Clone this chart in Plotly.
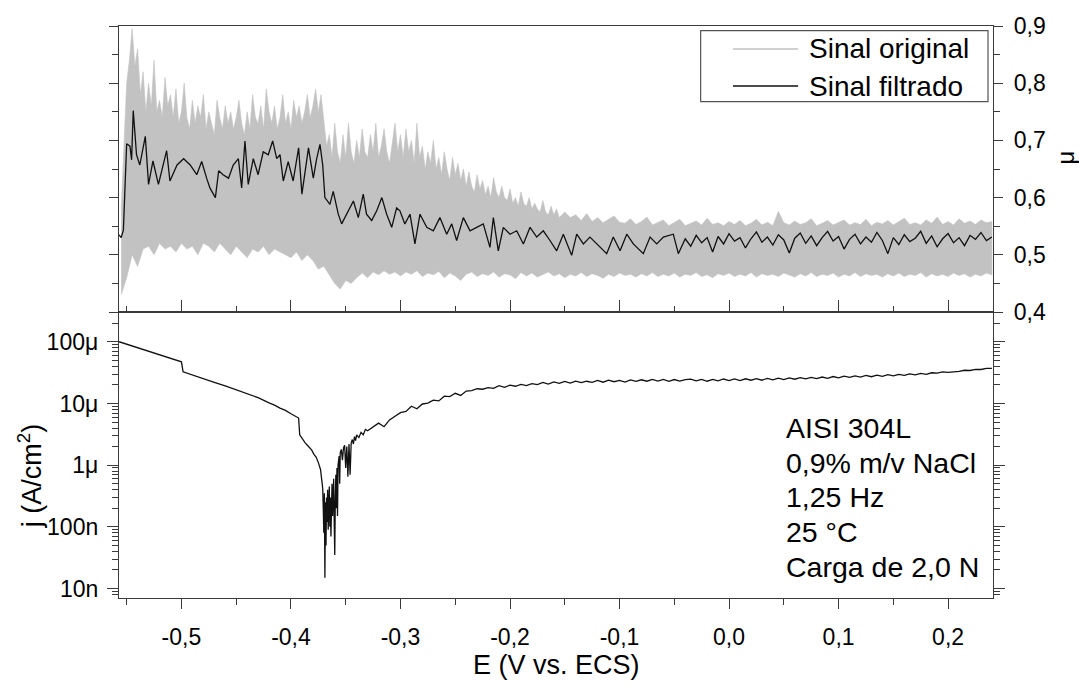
import plotly.graph_objects as go

# ---------------- data ----------------
# Top panel: friction coefficient (mu) vs E
# gray original signal: upper envelope (fine part + coarse part) and lower envelope
E_up1_start, E_up1_step = -0.555, 0.0025
mu_upper1 = [0.58, 0.70, 0.80, 0.84, 0.895, 0.83, 0.86,
             0.78, 0.82, 0.75, 0.80, 0.76, 0.84, 0.75, 0.77, 0.74, 0.81, 0.76, 0.78,
             0.74, 0.79, 0.73, 0.75, 0.80, 0.74, 0.72, 0.77, 0.73, 0.76, 0.74, 0.78,
             0.72, 0.75, 0.73, 0.71, 0.77, 0.74, 0.72, 0.76, 0.73, 0.75, 0.72, 0.74,
             0.77, 0.73, 0.71, 0.75, 0.72, 0.78, 0.74, 0.73, 0.76, 0.72, 0.79, 0.75,
             0.73, 0.76, 0.72, 0.74, 0.78, 0.73, 0.75, 0.72, 0.77, 0.74, 0.76, 0.73,
             0.75, 0.78, 0.74, 0.76, 0.79, 0.75, 0.78, 0.73, 0.69, 0.71, 0.67, 0.73,
             0.68, 0.66, 0.71, 0.67, 0.73, 0.68, 0.66, 0.70, 0.67, 0.72, 0.68, 0.67,
             0.71, 0.68, 0.73, 0.67, 0.69, 0.72, 0.68, 0.66, 0.70, 0.73, 0.68, 0.71,
             0.67, 0.72, 0.68, 0.70, 0.66, 0.73, 0.67, 0.69, 0.65, 0.68, 0.66, 0.70,
             0.65, 0.67, 0.64, 0.68, 0.65, 0.63, 0.67, 0.64, 0.66, 0.63, 0.65, 0.62,
             0.645, 0.62, 0.61, 0.64, 0.615, 0.63, 0.605, 0.62, 0.60, 0.635, 0.61, 0.60,
             0.62, 0.60, 0.595, 0.615, 0.59, 0.60, 0.585, 0.61, 0.59, 0.585, 0.60, 0.58,
             0.59, 0.58, 0.575, 0.595, 0.575, 0.57, 0.585, 0.57, 0.58, 0.565, 0.57, 0.575]
E_up2_start, E_up2_step = -0.145, 0.005
mu_upper2 = [0.565, 0.57, 0.56, 0.572, 0.558, 0.565, 0.556, 0.562, 0.568, 0.557,
             0.555, 0.563, 0.553, 0.558, 0.566, 0.552, 0.557, 0.561, 0.551, 0.556,
             0.562, 0.551, 0.555, 0.559, 0.552, 0.564, 0.553, 0.556, 0.551, 0.558,
             0.553, 0.56, 0.551, 0.555, 0.562, 0.552, 0.557, 0.551, 0.576, 0.556,
             0.552, 0.559, 0.553, 0.556, 0.563, 0.551, 0.555, 0.560, 0.552, 0.557,
             0.561, 0.552, 0.556, 0.553, 0.562, 0.551, 0.557, 0.554, 0.56, 0.552,
             0.558, 0.564, 0.553, 0.556, 0.552, 0.561, 0.555, 0.566, 0.553, 0.558,
             0.552, 0.563, 0.555, 0.559, 0.553, 0.561, 0.556, 0.558]
E_low_start, E_low_step = -0.555, 0.005
mu_lower = [0.43, 0.46, 0.50, 0.48, 0.51, 0.515, 0.50, 0.52, 0.51, 0.515,
            0.505, 0.52, 0.51, 0.515, 0.50, 0.52, 0.515, 0.505, 0.52, 0.51,
            0.50, 0.515, 0.505, 0.495, 0.51, 0.505, 0.515, 0.50, 0.51, 0.505,
            0.50, 0.495, 0.505, 0.49, 0.50, 0.49, 0.475, 0.48, 0.465, 0.45,
            0.44, 0.455, 0.45, 0.46, 0.468, 0.46, 0.47, 0.465, 0.472, 0.466,
            0.47, 0.463, 0.47, 0.466, 0.472, 0.462, 0.468, 0.465, 0.471, 0.46,
            0.468, 0.463, 0.455, 0.466, 0.47, 0.462, 0.467, 0.464, 0.47, 0.461,
            0.467, 0.465, 0.458, 0.469, 0.463, 0.468, 0.461, 0.466, 0.47, 0.463,
            0.467, 0.46, 0.466, 0.463, 0.469, 0.462, 0.467, 0.464, 0.459, 0.466,
            0.462, 0.468, 0.464, 0.466, 0.461, 0.467, 0.463, 0.469, 0.462, 0.466,
            0.463, 0.468, 0.461, 0.466, 0.464, 0.469, 0.462, 0.465, 0.46, 0.467,
            0.464, 0.468, 0.462, 0.466, 0.463, 0.469, 0.461, 0.467, 0.464, 0.466,
            0.462, 0.468, 0.465, 0.461, 0.467, 0.463, 0.469, 0.462, 0.466, 0.464,
            0.468, 0.461, 0.466, 0.463, 0.469, 0.462, 0.467, 0.464, 0.466, 0.461,
            0.467, 0.463, 0.468, 0.462, 0.466, 0.464, 0.469, 0.461, 0.467, 0.463,
            0.466, 0.462, 0.468, 0.464, 0.467, 0.461, 0.466, 0.463, 0.468, 0.465]

# filtered signal
E_filt = [-0.557, -0.555, -0.553, -0.5516, -0.550, -0.547, -0.5455, -0.544, -0.541, -0.538,
          -0.533, -0.530, -0.526, -0.521, -0.518, -0.5135, -0.5105, -0.504, -0.498, -0.492,
          -0.486, -0.4815, -0.477, -0.474, -0.469, -0.466, -0.462, -0.457, -0.4527, -0.448,
          -0.445, -0.442, -0.439, -0.4344, -0.430, -0.4253, -0.4207, -0.4167, -0.413, -0.410,
          -0.407, -0.4025, -0.398, -0.393, -0.390, -0.387, -0.384, -0.3796, -0.3765, -0.3735,
          -0.371, -0.369, -0.3644, -0.3614, -0.3568, -0.3537, -0.349, -0.343, -0.3385, -0.334,
          -0.331, -0.3263, -0.3217, -0.317, -0.3126, -0.308, -0.3035, -0.3005, -0.296, -0.2913,
          -0.2868, -0.2822, -0.276, -0.270, -0.264, -0.2578, -0.2532, -0.2487, -0.2426, -0.2365,
          -0.2304, -0.2244, -0.2183, -0.2152, -0.2107, -0.2061, -0.200, -0.1939, -0.1878, -0.1817,
          -0.1756, -0.1696, -0.1635, -0.1574, -0.1513, -0.1437, -0.1391, -0.133, -0.127, -0.1208,
          -0.1117, -0.1057, -0.0995, -0.0934, -0.0874, -0.0783, -0.0721, -0.066, -0.060, -0.0509,
          -0.0463]
mu_filt = [0.535, 0.53, 0.543, 0.624, 0.694, 0.69, 0.666, 0.752, 0.675, 0.657,
           0.707, 0.623, 0.664, 0.623, 0.647, 0.682, 0.629, 0.657, 0.668, 0.657,
           0.64, 0.663, 0.634, 0.617, 0.600, 0.647, 0.64, 0.634, 0.657, 0.668,
           0.617, 0.699, 0.623, 0.668, 0.64, 0.68, 0.675, 0.699, 0.668, 0.675,
           0.629, 0.663, 0.629, 0.687, 0.606, 0.647, 0.687, 0.634, 0.668, 0.693,
           0.657, 0.600, 0.588, 0.611, 0.571, 0.554, 0.571, 0.594, 0.565, 0.606,
           0.571, 0.56, 0.577, 0.60, 0.571, 0.548, 0.582, 0.577, 0.554, 0.571,
           0.519, 0.571, 0.548, 0.542, 0.565, 0.536, 0.554, 0.525, 0.565, 0.542,
           0.548, 0.554, 0.513, 0.565, 0.507, 0.548, 0.536, 0.542, 0.519, 0.548,
           0.531, 0.542, 0.525, 0.507, 0.536, 0.499, 0.536, 0.519, 0.531, 0.519,
           0.502, 0.531, 0.507, 0.536, 0.519, 0.502, 0.531, 0.519, 0.531, 0.536,
           0.502]
E_tail_start, E_tail_step = -0.040, 0.005
mu_filt_tail = [0.528, 0.515, 0.534, 0.521, 0.530, 0.505, 0.532, 0.519, 0.537, 0.524,
                0.530, 0.512, 0.528, 0.540, 0.522, 0.531, 0.517, 0.535, 0.526, 0.503,
                0.529, 0.538, 0.520, 0.533, 0.516, 0.530, 0.541, 0.524, 0.532, 0.510,
                0.527, 0.536, 0.519, 0.531, 0.522, 0.539, 0.525, 0.502, 0.530, 0.518,
                0.535, 0.523, 0.529, 0.541, 0.520, 0.533, 0.514, 0.528, 0.537, 0.521,
                0.530, 0.516, 0.534, 0.527, 0.539, 0.525, 0.531]

# Bottom panel: current density j (uA/cm2) vs E
E_j_cat = [-0.557, -0.545, -0.530, -0.515, -0.500, -0.4985, -0.490, -0.480, -0.470, -0.460,
           -0.450, -0.440, -0.430, -0.420, -0.415, -0.410, -0.405, -0.400, -0.395, -0.393,
           -0.392]
j_cat_uA = [100, 85.5, 70.2, 57.5, 47.3, 32.6, 28.8, 25.2, 22.0, 19.2,
            16.7, 14.5, 12.4, 10.2, 9.4, 8.4, 7.7, 6.8, 6.2, 5.8,
            3.1]
E_j_min = [-0.391, -0.389, -0.387, -0.385, -0.383, -0.381, -0.379, -0.377, -0.375, -0.374,
           -0.373, -0.372, -0.371, -0.3705, -0.370, -0.3695, -0.369, -0.3685, -0.368, -0.3675,
           -0.367, -0.3665, -0.366, -0.3655, -0.365, -0.3645, -0.364, -0.3635, -0.363, -0.3625,
           -0.362, -0.3615, -0.361, -0.3605, -0.360, -0.3595, -0.359, -0.3585, -0.358, -0.3575,
           -0.357, -0.356, -0.3555, -0.355, -0.354, -0.353, -0.352, -0.351, -0.350, -0.349,
           -0.348, -0.347, -0.346, -0.345, -0.344, -0.343, -0.342, -0.341, -0.340, -0.338,
           -0.336, -0.334, -0.332, -0.330]
j_min_uA = [2.9, 2.6, 2.3, 2.1, 1.9, 1.75, 1.5, 1.35, 1.1, 0.95,
            0.85, 0.6, 0.42, 0.2, 0.08, 0.35, 0.015, 0.25, 0.05, 0.3,
            0.12, 0.4, 0.09, 0.22, 0.45, 0.1, 0.3, 0.07, 0.25, 0.5,
            0.15, 0.35, 0.6, 0.12, 0.035, 0.3, 0.7, 0.2, 0.9, 0.15,
            1.0, 1.4, 0.5, 1.6, 1.8, 1.2, 1.9, 2.1, 0.9, 2.0,
            0.65, 2.2, 0.7, 2.3, 2.6, 2.2, 2.9, 2.5, 3.1, 2.8,
            3.4, 3.1, 3.8, 3.6]
E_j_pas_start, E_j_pas_step = -0.325, 0.005
j_pas_uA = [4.1, 4.8, 4.2, 5.4, 6.2, 7.1, 7.4, 9.0, 8.2, 9.8,
            10.1, 11.3, 11.0, 13.1, 12.9, 14.6, 13.5, 15.9, 16.1, 17.3,
            17.0, 18.1, 17.6, 19.4, 18.2, 19.8, 19.0, 20.3, 19.5, 20.9,
            20.2, 21.9, 20.6, 22.3, 21.2, 22.8, 21.3, 23.0, 21.7, 22.9,
            22.0, 23.6, 22.1, 23.9, 22.5, 23.7, 22.2, 24.1, 22.8, 24.2,
            22.9, 24.5, 23.1, 24.6, 22.8, 24.4, 23.0, 24.3, 24.8, 23.2,
            24.6, 22.9, 24.5, 23.3, 24.9, 23.5, 25.0, 23.4, 25.1, 23.8,
            25.3, 23.8, 25.4, 24.1, 25.7, 24.4, 26.0, 24.7, 26.2, 25.0,
            26.5, 25.3, 26.8, 25.6, 27.3, 26.0, 27.7, 26.4, 28.0, 26.8,
            28.4, 27.1, 28.8, 27.5, 29.2, 27.9, 29.6, 28.6, 30.2, 29.0,
            30.7, 29.6, 31.4, 30.9, 32.5, 32.0, 32.6, 33.0, 34.5, 34.2,
            35.6, 35.5, 36.9, 37.0]

# Axis ticks / labels
x_major = [-0.5, -0.4, -0.3, -0.2, -0.1, 0.0, 0.1, 0.2]
x_major_text = ["-0,5", "-0,4", "-0,3", "-0,2", "-0,1", "0,0", "0,1", "0,2"]
x_minor = [-0.55, -0.45, -0.35, -0.25, -0.15, -0.05, 0.05, 0.15]
mu_major = [0.4, 0.5, 0.6, 0.7, 0.8, 0.9]
mu_major_text = ["0,4", "0,5", "0,6", "0,7", "0,8", "0,9"]
mu_minor = [0.45, 0.55, 0.65, 0.75, 0.85]
j_major = [1e-8, 1e-7, 1e-6, 1e-5, 1e-4]
j_major_text = ["10n", "100n", "1μ", "10μ", "100μ"]
j_minor_digits = [2, 3, 4, 5, 6, 7, 8, 9]
j_minor_decades = [1e-9, 1e-8, 1e-7, 1e-6, 1e-5, 1e-4]

info_lines = ["AISI 304L", "0,9% m/v NaCl", "1,25 Hz", "25 °C", "Carga de 2,0 N"]

# ---------------- build ----------------
E_up1 = [round(E_up1_start + i * E_up1_step, 5) for i in range(len(mu_upper1))]
E_up2 = [round(E_up2_start + i * E_up2_step, 5) for i in range(len(mu_upper2))]
E_low = [round(E_low_start + i * E_low_step, 5) for i in range(len(mu_lower))]
E_tail = [round(E_tail_start + i * E_tail_step, 5) for i in range(len(mu_filt_tail))]
E_pas = [round(E_j_pas_start + i * E_j_pas_step, 5) for i in range(len(j_pas_uA))]

E_up = E_up1 + E_up2
mu_upper = mu_upper1 + mu_upper2

E_j = E_j_cat + E_j_min + E_pas
j_vals = [v * 1e-6 for v in (j_cat_uA + j_min_uA + j_pas_uA)]
j_minor = [d * dec for dec in j_minor_decades for d in j_minor_digits]

FONT = "Liberation Sans, Arial, sans-serif"
AX = "#3a3a3a"
GRAY = "#c2c2c2"

fig = go.Figure()
fig.add_trace(go.Scatter(
    x=E_up + E_low[::-1], y=mu_upper + mu_lower[::-1],
    fill="toself", fillcolor=GRAY, line=dict(width=0.6, color=GRAY),
    mode="lines", showlegend=False, xaxis="x", yaxis="y", hoverinfo="skip"))
fig.add_trace(go.Scatter(
    x=E_filt + E_tail, y=mu_filt + mu_filt_tail, mode="lines",
    line=dict(color="#111111", width=1.3), showlegend=False,
    xaxis="x", yaxis="y"))
fig.add_trace(go.Scatter(
    x=E_j, y=j_vals, mode="lines", line=dict(color="#111111", width=1.3),
    showlegend=False, xaxis="x2", yaxis="y2"))

x_range = [-0.557, 0.241]
common_line = dict(showline=True, linecolor=AX, linewidth=1.3, showgrid=False,
                   zeroline=False, tickcolor=AX, tickwidth=1.2)

fig.update_layout(
    width=1079, height=686,
    margin=dict(l=119, r=86, t=26, b=88),
    paper_bgcolor="white", plot_bgcolor="white",
    font=dict(family=FONT, color="black", size=23),
    showlegend=False,
    xaxis=dict(domain=[0, 1], anchor="y", range=x_range, mirror=True,
               ticks="inside", ticklen=12, tickmode="array", tickvals=x_major,
               showticklabels=False,
               minor=dict(ticks="inside", ticklen=6, tickmode="array", tickvals=x_minor,
                          tickcolor=AX, tickwidth=1.2, showgrid=False),
               **common_line),
    yaxis=dict(domain=[0.5, 1], anchor="x", side="right", range=[0.4, 0.9],
               tickmode="array", tickvals=mu_major, ticktext=mu_major_text,
               ticks="outside", ticklen=9, mirror="ticks", ticklabelstandoff=6,
               tickfont=dict(size=23, family=FONT),
               minor=dict(ticks="outside", ticklen=6, tickmode="array", tickvals=mu_minor,
                          tickcolor=AX, tickwidth=1.2, showgrid=False),
               **common_line),
    xaxis2=dict(domain=[0, 1], anchor="y2", range=x_range, matches="x", mirror=True,
                ticks="outside", ticklen=10, tickmode="array", tickvals=x_major,
                ticktext=x_major_text, ticklabelstandoff=8,
                tickfont=dict(size=23, family=FONT),
                minor=dict(ticks="outside", ticklen=6, tickmode="array", tickvals=x_minor,
                           tickcolor=AX, tickwidth=1.2, showgrid=False),
                **common_line),
    yaxis2=dict(domain=[0, 0.5], anchor="x2", type="log", range=[-8.153, -3.518],
                tickmode="array", tickvals=j_major, ticktext=j_major_text,
                ticks="outside", ticklen=11, mirror="ticks", ticklabelstandoff=4,
                tickfont=dict(size=23, family=FONT),
                minor=dict(ticks="outside", ticklen=6, tickmode="array", tickvals=j_minor,
                           tickcolor=AX, tickwidth=1.2, showgrid=False),
                **common_line),
)

annotations = []
# axis titles
annotations.append(dict(text="E (V vs. ECS)", xref="paper", yref="paper", x=0.5, y=-0.117,
                        xanchor="center", yanchor="middle", showarrow=False,
                        font=dict(size=27, family=FONT)))
annotations.append(dict(text="j (A/cm<sup>2</sup>)", xref="paper", yref="paper",
                        x=-0.1018, y=0.213, xanchor="center", yanchor="middle",
                        textangle=-90, showarrow=False, font=dict(size=27, family=FONT)))
annotations.append(dict(text="μ", xref="paper", yref="paper", x=1.0835, y=0.77,
                        xanchor="center", yanchor="middle", textangle=-90,
                        showarrow=False, font=dict(size=24, family=FONT)))
# info text
info_y = [0.297, 0.236, 0.176, 0.115, 0.054]
for t, yy in zip(info_lines, info_y):
    annotations.append(dict(text=t, xref="x2", yref="paper", x=0.05, y=yy,
                            xanchor="left", yanchor="middle", showarrow=False,
                            font=dict(size=28.5, family=FONT)))
# legend (drawn manually)
leg_names = ["Sinal original", "Sinal filtrado"]
leg_colors = [GRAY, "#111111"]
leg_y = [0.96, 0.895]
shapes = [dict(type="rect", xref="paper", yref="paper", x0=0.6655, x1=0.9943,
               y0=0.8677, y1=0.9918, line=dict(color="#555555", width=1.2),
               fillcolor="white", layer="above")]
for name, col, yy in zip(leg_names, leg_colors, leg_y):
    shapes.append(dict(type="line", xref="paper", yref="paper", x0=0.7025, x1=0.777,
                       y0=yy, y1=yy, line=dict(color=col, width=1.5), layer="above"))
    annotations.append(dict(text=name, xref="paper", yref="paper", x=0.787, y=yy,
                            xanchor="left", yanchor="middle", showarrow=False,
                            font=dict(size=28, family=FONT)))

fig.update_layout(annotations=annotations, shapes=shapes)
fig.write_html("out.html")
